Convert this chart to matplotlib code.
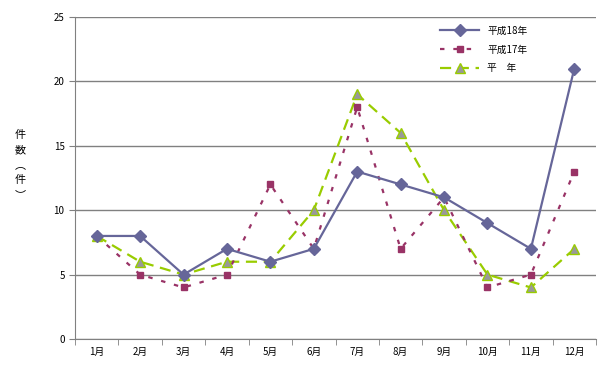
import matplotlib
matplotlib.use("Agg")
import matplotlib.pyplot as plt

plt.rcParams['font.family'] = ['Noto Sans CJK JP', 'DejaVu Sans']

months = ['1月', '2月', '3月', '4月', '5月', '6月', '7月', '8月', '9月', '10月', '11月', '12月']
h18 = [8, 8, 5, 7, 6, 7, 13, 12, 11, 9, 7, 21]
h17 = [8, 5, 4, 5, 12, 7, 18, 7, 11, 4, 5, 13]
heinen = [8, 6, 5, 6, 6, 10, 19, 16, 10, 5, 4, 7]

fig = plt.figure(figsize=(6.13, 3.79), dpi=100)
ax = fig.add_axes([75 / 613, 40 / 379, 521 / 613, 322 / 379])

x = list(range(len(months)))
ax.plot(x, h18, color='#666699', lw=1.6, marker='D', ms=6, label='平成18年', zorder=4)
ax.plot(x, h17, color='#993366', lw=1.6, ls=(0, (2, 4)), marker='s', ms=5,
        label='平成17年', zorder=3)
ax.plot(x, heinen, color='#99cc00', lw=1.6, ls=(0, (5, 3)), marker='^', ms=7,
        mfc='#999999', mec='#99cc00', label='平　年', zorder=2)

ax.set_xlim(-0.5, 11.5)
ax.set_ylim(0, 25)
ax.set_yticks(range(0, 26, 5))
ax.set_xticks(x)
ax.set_xticklabels(months, fontsize=7)
ax.set_xticks([i - 0.5 for i in range(13)], minor=True)
ax.tick_params(axis='x', which='major', length=0, pad=6)
ax.tick_params(axis='x', which='minor', length=4, color='#808080')
ax.tick_params(axis='y', labelsize=7, length=4, color='#808080')
ax.yaxis.grid(True, color='#808080', lw=1)
ax.set_axisbelow(True)
for s in ['top', 'right']:
    ax.spines[s].set_visible(False)
for s in ['left', 'bottom']:
    ax.spines[s].set_color('#808080')

fig.text(20 / 613, 1 - 165 / 379, '件\n数\n︵\n件\n︶', fontsize=8, ha='center', va='center',
         linespacing=1.6)

ax.legend(loc='upper right', bbox_to_anchor=(0.885, 1.0), frameon=False, fontsize=7,
          handlelength=4, labelspacing=0.9)

fig.savefig('out.png', dpi=100)
